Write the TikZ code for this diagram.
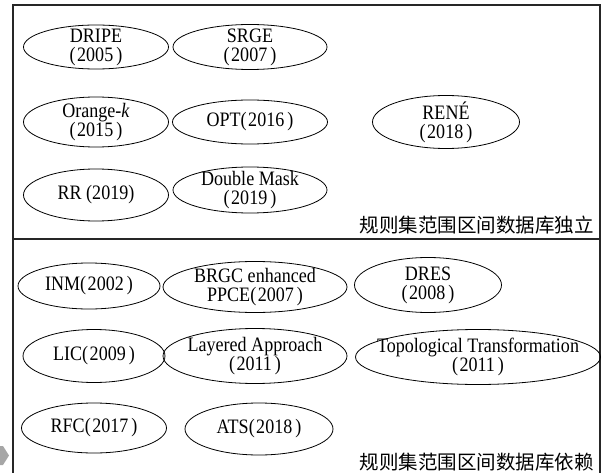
\documentclass[tikz,border=0pt]{standalone}
\usepackage{fontspec}
\setmainfont{Liberation Serif}[FakeStretch=0.88]
\newfontfamily\cjk{Noto Sans CJK SC}
\usetikzlibrary{shapes.geometric}
\newcommand{\yr}[1]{(\hspace{1.5pt}#1\hspace{3pt})}
\tikzset{
  el/.style={ellipse, draw, line width=0.8pt, inner sep=0pt},
  lab/.style={align=center, inner sep=0pt,
    font=\fontsize{20.5pt}{19pt}\selectfont},
  frame/.style={line width=1.3pt, draw=black!85},
  zone/.style={font=\cjk\fontsize{19.5pt}{19.5pt}\selectfont, anchor=east, inner sep=0pt}
}
\begin{document}
\begin{tikzpicture}[x=1pt,y=-1pt]
\useasboundingbox (0,0) rectangle (607,473);
% frame
\draw[frame] (13,473) -- (13,5) -- (600,5) -- (600,473);
\draw[frame] (13,239) -- (600,239);
% gray marker
\fill[black!35] (0,446) -- (3,446) -- (9,455.5) -- (3,465) -- (0,465) -- cycle;
% upper section
\node[el, minimum width=145pt, minimum height=44pt, label={[lab]center:DRIPE\\\yr{2005}}] (dripe) at (96,47) {};
\node[el, minimum width=154pt, minimum height=45pt, label={[lab]center:SRGE\\\yr{2007}}] (srge) at (250,47) {};
\node[el, minimum width=145pt, minimum height=50pt, label={[lab]center:Orange-\textit{k}\\\yr{2015}}] (orange) at (96,122) {};
\node[el, minimum width=155pt, minimum height=44pt, label={[lab]center:OPT\yr{2016}}] (opt) at (250,122) {};
\node[el, minimum width=147pt, minimum height=53pt, label={[lab]center:RENÉ\\\yr{2018}}] (rene) at (446,122) {};
\node[el, minimum width=145pt, minimum height=52pt, label={[lab]center:RR (2019)}] (rr) at (96,195) {};
\node[el, minimum width=154pt, minimum height=46pt, label={[lab]center:Double Mask\\\yr{2019}}] (dmask) at (250,190) {};
\node[zone] (indep) at (594,225) {规则集范围区间数据库独立};
% lower section
\node[el, minimum width=142pt, minimum height=46pt, label={[lab]center:INM\yr{2002}}] (inm) at (89,286) {};
\node[el, minimum width=184pt, minimum height=51pt, label={[lab]center:BRGC enhanced\\PPCE\yr{2007}}] (brgc) at (255,287) {};
\node[el, minimum width=147pt, minimum height=55pt, label={[lab]center:DRES\\\yr{2008}}] (dres) at (428,285) {};
\node[el, minimum width=142pt, minimum height=53pt, label={[lab]center:LIC\yr{2009}}] (lic) at (94,356) {};
\node[el, minimum width=184pt, minimum height=55pt, label={[lab]center:Layered Approach\\\yr{2011}}] (layered) at (255,356) {};
\node[el, minimum width=245pt, minimum height=55pt, label={[lab]center:Topological Transformation\\\yr{2011}}] (topo) at (478,357) {};
\node[el, minimum width=145pt, minimum height=50pt, label={[lab]center:RFC\yr{2017}}] (rfc) at (94,428) {};
\node[el, minimum width=148pt, minimum height=52pt, label={[lab]center:ATS\yr{2018}}] (ats) at (259,429) {};
\node[zone] (dep) at (594,462) {规则集范围区间数据库依赖};
\end{tikzpicture}
\end{document}
